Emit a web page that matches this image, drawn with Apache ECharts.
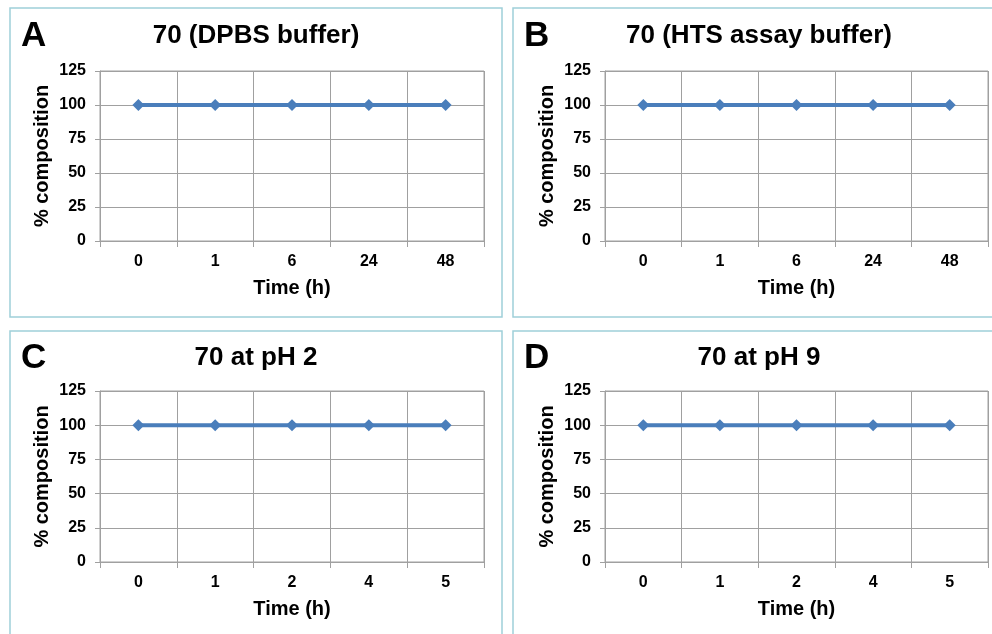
<!DOCTYPE html>
<html>
<head>
<meta charset="utf-8">
<script src="https://cdn.jsdelivr.net/npm/echarts@6/dist/echarts.min.js"></script>
<style>
  html, body { margin: 0; padding: 0; background: #fff; }
  #chart { width: 992px; height: 634px; }
</style>
</head>
<body>
<div id="chart"></div>
<script>
// time points (h) on the x axis
var timesBuffer = ["0", "1", "6", "24", "48"];
var timesPH = ["0", "1", "2", "4", "5"];

// % composition per panel
var dpbsValues = [100, 100, 100, 100, 100];
var htsValues = [100, 100, 100, 100, 100];
var ph2Values = [100, 100, 100, 100, 100];
var ph9Values = [100, 100, 100, 100, 100];

// y axis ticks
var yTicks = [0, 25, 50, 75, 100, 125];

var panelLetters = ["A", "B", "C", "D"];
var panelTitles = ["70 (DPBS buffer)", "70 (HTS assay buffer)", "70 at pH 2", "70 at pH 9"];

var FONT = '"Liberation Sans", Arial, sans-serif';
var GRID_COLOR = "#a0a0a0";
var LINE_COLOR = "#4a7ebb";

// layout of the four panels
var panels = [
  { left: 100, top: 71, width: 384, height: 170, box: [10, 8, 492, 309], cx: 256, ty: 36, cats: timesBuffer, data: dpbsValues },
  { left: 605, top: 71, width: 383, height: 170, box: [513, 8, 492, 309], cx: 759, ty: 36, cats: timesBuffer, data: htsValues },
  { left: 100, top: 391, width: 384, height: 171, box: [10, 331, 492, 320], cx: 256, ty: 358, cats: timesPH, data: ph2Values },
  { left: 605, top: 391, width: 383, height: 171, box: [513, 331, 492, 320], cx: 759, ty: 358, cats: timesPH, data: ph9Values }
];

var grids = [], xAxes = [], yAxes = [], series = [], graphics = [];

panels.forEach(function (p, i) {
  // panel frame
  graphics.push({
    type: "rect",
    shape: { x: p.box[0], y: p.box[1], width: p.box[2], height: p.box[3] },
    style: { fill: "none", stroke: "#9fd0d9", lineWidth: 1.5 },
    silent: true
  });
  // panel letter
  graphics.push({
    type: "text",
    x: p.box[0] + 11,
    y: p.ty,
    style: { text: panelLetters[i], font: "bold 35px " + FONT, fill: "#000", textAlign: "left", textVerticalAlign: "middle" }
  });
  // title
  graphics.push({
    type: "text",
    x: p.cx,
    y: p.ty,
    style: { text: panelTitles[i], font: "bold 26px " + FONT, fill: "#000", textAlign: "center", textVerticalAlign: "middle" }
  });

  grids.push({
    left: p.left, top: p.top, width: p.width, height: p.height,
    show: true, borderColor: GRID_COLOR, borderWidth: 1, backgroundColor: "transparent"
  });

  xAxes.push({
    type: "category",
    gridIndex: i,
    data: p.cats,
    boundaryGap: true,
    name: "Time (h)",
    nameLocation: "middle",
    nameGap: 37,
    nameTextStyle: { fontSize: 20, fontWeight: "bold", color: "#000", fontFamily: FONT },
    axisLine: { lineStyle: { color: GRID_COLOR, width: 1 } },
    axisTick: { show: true, length: 6, lineStyle: { color: GRID_COLOR } },
    axisLabel: { margin: 13, fontSize: 16, fontWeight: "bold", color: "#000", fontFamily: FONT },
    splitLine: { show: true, lineStyle: { color: GRID_COLOR, width: 1 } }
  });

  yAxes.push({
    type: "value",
    gridIndex: i,
    min: yTicks[0],
    max: yTicks[yTicks.length - 1],
    interval: yTicks[1] - yTicks[0],
    name: "% composition",
    nameLocation: "middle",
    nameGap: 48,
    nameTextStyle: { fontSize: 20, fontWeight: "bold", color: "#000", fontFamily: FONT },
    axisLine: { show: true, lineStyle: { color: GRID_COLOR, width: 1 } },
    axisTick: { show: true, length: 5, lineStyle: { color: GRID_COLOR } },
    axisLabel: { margin: 14, fontSize: 16, fontWeight: "bold", color: "#000", fontFamily: FONT },
    splitLine: { show: true, lineStyle: { color: GRID_COLOR, width: 1 } }
  });

  series.push({
    type: "line",
    xAxisIndex: i,
    yAxisIndex: i,
    data: p.data,
    symbol: "diamond",
    symbolSize: 12,
    showSymbol: true,
    lineStyle: { color: LINE_COLOR, width: 4 },
    itemStyle: { color: LINE_COLOR }
  });
});

var myChart = echarts.init(document.getElementById("chart"));
myChart.setOption({
  animation: false,
  backgroundColor: "#fff",
  grid: grids,
  xAxis: xAxes,
  yAxis: yAxes,
  series: series,
  graphic: graphics
});
</script>
</body>
</html>
